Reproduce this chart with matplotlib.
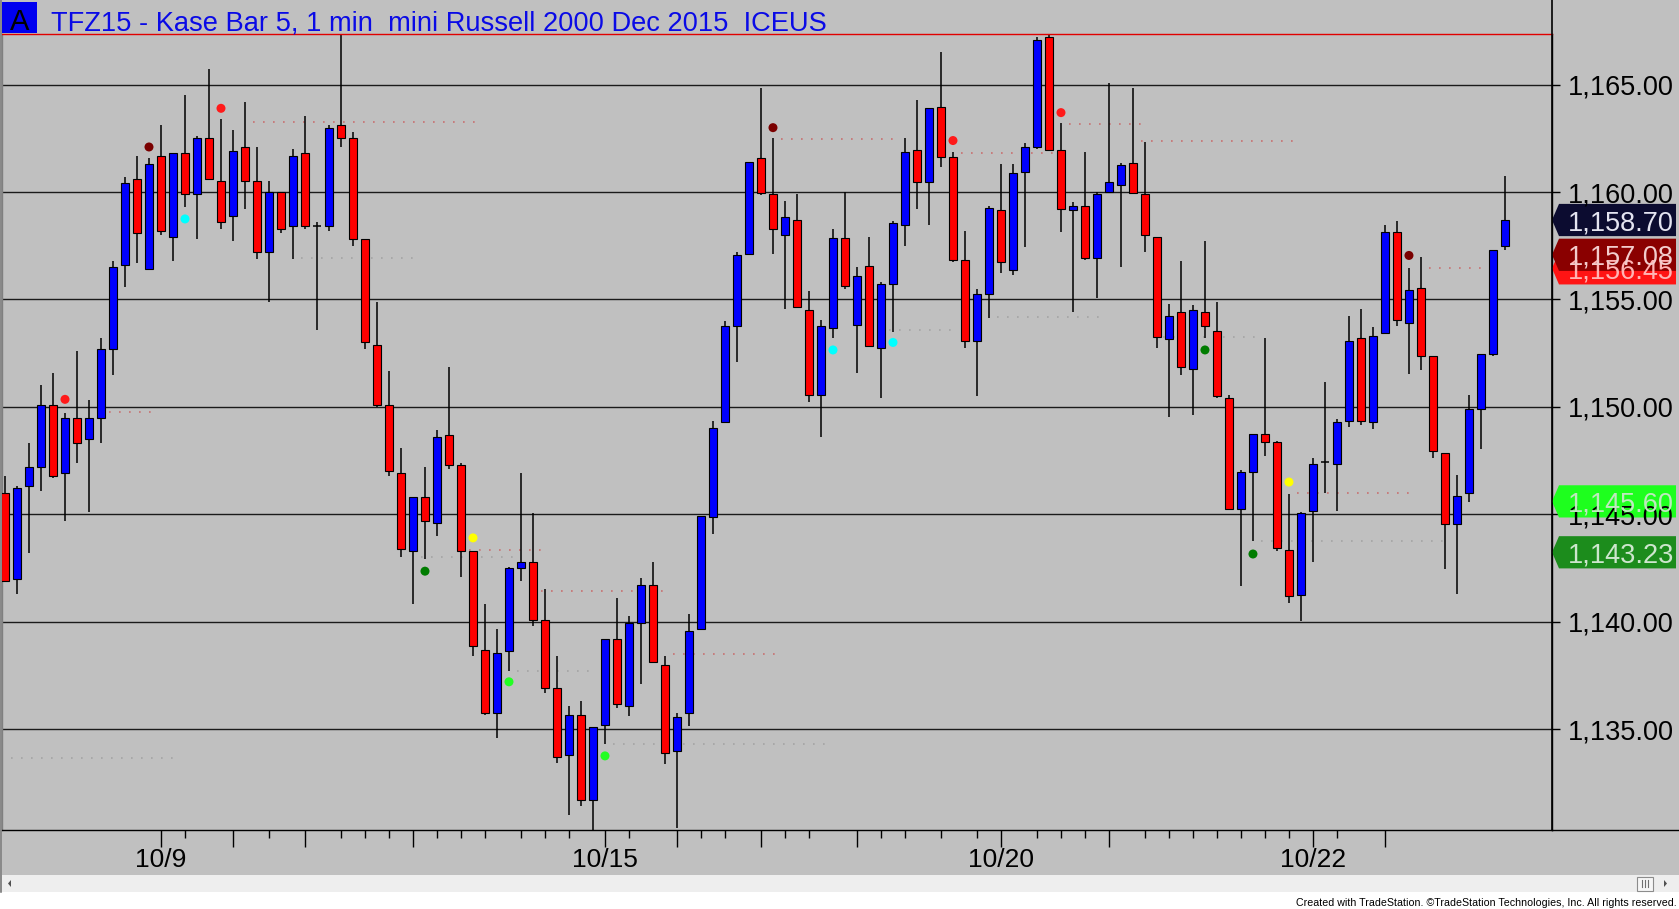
import matplotlib
matplotlib.use("Agg")
import matplotlib.pyplot as plt
from matplotlib import transforms, font_manager
from matplotlib.patches import Rectangle, Polygon
import numpy as np

# ---- data (Kase bars, 1-based bar numbers) ----
opens = [1146.0, 1142.0, 1146.3, 1147.2, 1150.1, 1146.9, 1149.5, 1148.5, 1149.5, 1152.7,
         1156.6, 1160.6, 1156.4, 1161.7, 1157.9, 1161.8, 1159.9, 1162.5, 1160.5, 1158.9,
         1162.1, 1160.5, 1157.2, 1160.0, 1158.4, 1161.8, 1158.4, 1158.4, 1163.1, 1162.5,
         1157.8, 1152.9, 1150.1, 1146.9, 1143.3, 1145.8, 1144.6, 1148.7, 1147.3, 1143.3,
         1138.7, 1135.75, 1138.65, 1142.5, 1142.8, 1140.1, 1136.9, 1133.8, 1135.65, 1131.7,
         1135.2, 1139.2, 1136.05, 1139.95, 1141.7, 1138.0, 1134.0, 1135.75, 1139.65, 1144.85,
         1149.3, 1153.75, 1157.1, 1161.6, 1159.9, 1158.0, 1158.7, 1154.5, 1150.55, 1153.65,
         1157.85, 1153.8, 1156.55, 1152.75, 1155.7, 1158.45, 1161.95, 1160.45, 1163.95, 1161.65,
         1156.85, 1153.05, 1155.25, 1159.15, 1156.35, 1160.95, 1162.1, 1167.2, 1161.95, 1159.15,
         1159.35, 1156.95, 1160.0, 1160.35, 1161.35, 1159.9, 1157.9, 1153.15, 1154.4, 1151.75,
         1154.4, 1153.55, 1150.4, 1145.25, 1146.95, 1148.75, 1148.35, 1143.35, 1141.25, 1145.15,
         1147.45, 1147.35, 1149.35, 1153.2, 1149.3, 1153.45, 1158.15, 1153.9, 1155.55, 1152.35,
         1147.85, 1144.55, 1146.0, 1149.9, 1152.45, 1157.5]
highs = [1146.8, 1146.3, 1148.3, 1151.0, 1151.6, 1149.7, 1152.6, 1150.3, 1153.2, 1156.8,
         1160.7, 1161.7, 1161.6, 1163.1, 1161.8, 1164.5, 1162.6, 1165.75, 1163.4, 1162.9,
         1164.2, 1162.1, 1160.5, 1160.0, 1162.0, 1163.55, 1158.6, 1163.1, 1167.3, 1162.8,
         1157.8, 1154.9, 1151.65, 1148.1, 1145.8, 1147.2, 1148.9, 1151.85, 1147.4, 1143.3,
         1140.8, 1139.65, 1142.55, 1146.9, 1145.05, 1141.5, 1138.4, 1136.05, 1136.3, 1135.1,
         1139.2, 1141.1, 1140.25, 1142.05, 1142.8, 1138.4, 1135.75, 1140.35, 1144.9, 1149.35,
         1154.0, 1157.2, 1161.4, 1164.85, 1162.5, 1159.6, 1159.9, 1155.4, 1154.05, 1158.3,
         1160.0, 1156.5, 1157.9, 1155.8, 1158.65, 1162.5, 1164.3, 1163.9, 1166.5, 1161.85,
         1158.2, 1155.5, 1159.35, 1161.3, 1161.3, 1162.3, 1167.2, 1167.3, 1163.2, 1159.55,
         1161.85, 1160.0, 1165.1, 1161.35, 1164.85, 1162.35, 1157.9, 1154.8, 1156.8, 1154.75,
         1157.7, 1154.9, 1150.55, 1147.05, 1148.75, 1153.2, 1148.4, 1145.95, 1145.1, 1147.6,
         1151.15, 1149.45, 1154.25, 1154.55, 1153.7, 1158.45, 1158.65, 1156.45, 1157.0, 1152.35,
         1147.85, 1146.85, 1150.55, 1152.45, 1157.3, 1160.75]
lows = [1141.85, 1141.3, 1143.2, 1146.1, 1146.7, 1144.7, 1147.4, 1145.1, 1148.3, 1151.5,
        1155.6, 1156.7, 1156.4, 1158.0, 1156.8, 1159.3, 1157.8, 1160.6, 1158.3, 1157.7,
        1159.2, 1156.9, 1154.9, 1158.1, 1156.9, 1158.3, 1153.6, 1158.2, 1162.1, 1157.5,
        1152.7, 1150.0, 1146.8, 1143.0, 1140.8, 1142.9, 1144.0, 1147.1, 1142.1, 1138.4,
        1135.65, 1134.6, 1137.7, 1141.9, 1139.8, 1136.7, 1133.4, 1131.0, 1131.4, 1130.2,
        1134.3, 1136.0, 1135.6, 1137.1, 1138.1, 1133.35, 1130.4, 1135.15, 1139.6, 1144.1,
        1149.3, 1152.1, 1157.1, 1159.85, 1157.1, 1154.55, 1154.65, 1150.25, 1148.6, 1153.2,
        1155.5, 1151.6, 1152.85, 1150.4, 1153.5, 1157.5, 1159.2, 1158.45, 1161.15, 1156.75,
        1152.75, 1150.5, 1154.15, 1156.25, 1156.15, 1157.45, 1162.0, 1161.95, 1158.15, 1154.4,
        1156.85, 1155.05, 1160.0, 1156.5, 1159.95, 1157.2, 1152.75, 1149.55, 1151.5, 1149.6,
        1153.2, 1150.4, 1145.25, 1141.65, 1143.75, 1147.7, 1143.3, 1140.85, 1140.05, 1142.8,
        1146.0, 1145.15, 1149.05, 1149.15, 1148.95, 1153.45, 1153.75, 1151.55, 1151.7, 1147.6,
        1142.45, 1141.3, 1145.55, 1148.05, 1152.35, 1157.3]
closes = [1141.9, 1146.2, 1147.2, 1150.1, 1146.8, 1149.5, 1148.3, 1149.5, 1152.7, 1156.5,
          1160.4, 1158.1, 1161.3, 1158.2, 1161.8, 1159.9, 1162.5, 1160.6, 1158.6, 1161.9,
          1160.5, 1157.2, 1160.0, 1158.3, 1161.7, 1158.4, 1158.4, 1163.0, 1162.5, 1157.8,
          1153.0, 1150.1, 1147.0, 1143.4, 1145.8, 1144.7, 1148.6, 1147.3, 1143.3, 1138.85,
          1135.75, 1138.55, 1142.5, 1142.8, 1140.1, 1136.9, 1133.7, 1135.65, 1131.7, 1135.1,
          1139.2, 1136.15, 1139.95, 1141.7, 1138.1, 1133.9, 1135.55, 1139.55, 1144.9, 1149.0,
          1153.75, 1157.05, 1161.4, 1159.95, 1158.3, 1158.85, 1154.65, 1150.55, 1153.75, 1157.85,
          1155.65, 1156.1, 1152.85, 1155.7, 1158.55, 1161.85, 1160.45, 1163.9, 1161.65, 1156.85,
          1153.05, 1155.25, 1159.25, 1156.75, 1160.9, 1162.1, 1167.1, 1161.95, 1159.2, 1159.35,
          1156.95, 1159.9, 1160.45, 1161.25, 1159.95, 1158.0, 1153.25, 1154.25, 1151.85, 1154.5,
          1153.75, 1150.5, 1145.25, 1146.95, 1148.75, 1148.35, 1143.45, 1141.2, 1145.05, 1147.35,
          1147.45, 1149.3, 1153.05, 1149.35, 1153.3, 1158.15, 1154.05, 1155.45, 1152.35, 1147.95,
          1144.55, 1145.85, 1149.9, 1152.45, 1157.3, 1158.7]

# signal dots
dot_bars = [6, 13, 16, 19, 36, 40, 43, 51, 65, 70, 75, 80, 89, 101, 105, 108, 118]
dot_prices = [1150.35, 1162.1, 1158.75, 1163.9, 1142.35, 1143.9, 1137.2, 1133.75, 1163.0,
              1152.65, 1153.0, 1162.4, 1163.7, 1152.65, 1143.15, 1146.5, 1157.05]
dot_kinds = ["red", "maroon", "cyan", "red", "green", "yellow", "lime", "lime", "maroon",
             "cyan", "cyan", "red", "red", "green", "green", "yellow", "maroon"]

# faint dotted level lines: first bar, last bar, price, kind
level_start = [10, 1, 22, 26, 40, 36, 46, 44, 57, 52, 66, 75, 81, 90, 84, 96, 97, 109, 106, 120]
level_end = [13, 15, 40, 35, 46, 43, 56, 50, 65, 69, 75, 80, 88, 96, 92, 108, 105, 118, 121, 124]
level_price = [1149.75, 1133.65, 1163.25, 1156.95, 1143.35, 1143.0, 1141.45, 1137.7, 1138.5,
               1134.3, 1162.45, 1153.6, 1161.8, 1163.15, 1154.2, 1162.4, 1153.25, 1146.0,
               1143.75, 1156.45]
level_kind = ["r", "g", "r", "g", "r", "g", "r", "g", "r", "g", "r", "g", "r", "r", "g", "r",
              "g", "r", "g", "r"]

# price axis
price_ticks = [1135, 1140, 1145, 1150, 1155, 1160, 1165]
tag_prices = [1156.45, 1158.70, 1157.08, 1145.60, 1143.23]
tag_bg = ["#ff1414", "#0c0c30", "#8a0000", "#1eff1e", "#1c8c1c"]
tag_fg = ["#ffb4b4", "#e4e4f0", "#f2cccc", "#bfe8bf", "#cde6cd"]

# time axis
long_ticks = [14, 20, 26, 35, 51, 57, 64, 72, 84, 93, 110, 116]
short_ticks = [16, 23, 29, 31, 33, 37, 39, 41, 44, 46, 48, 53, 59, 61, 66, 68, 74, 76, 79,
               82, 87, 89, 91, 96, 98, 100, 102, 104, 106, 108, 112]
date_bars = [14, 51, 84, 110]
date_labels = ["10/9", "10/15", "10/20", "10/22"]

title = "TFZ15 - Kase Bar 5, 1 min  mini Russell 2000 Dec 2015  ICEUS"
footer = "Created with TradeStation. \u00a9TradeStation Technologies, Inc. All rights reserved."

SILVER = "#c0c0c0"
BLUE = "#0000ff"
RED = "#ff0000"
DOT_COLORS = {"red": "#ff1a1a", "maroon": "#7a0000", "cyan": "#00ffff", "green": "#007c00",
              "yellow": "#ffff00", "lime": "#22ff22"}
FONT = "Liberation Sans"

W, H = 1679, 909
L, R, T, B = 2, 1552, 34, 830

fig = plt.figure(figsize=(W / 100, H / 100), dpi=100, facecolor=SILVER)
ax = fig.add_axes([L / W, 1 - B / H, (R - L) / W, (B - T) / H])
ax.set_facecolor(SILVER)
ax.set_xlim(0.75, 129.92)
ax.set_ylim(1130.30, 1167.36)

# grid
ax.set_yticks(price_ticks)
ax.grid(axis="y", color="#1a1a1a", lw=1.0, zorder=0)
ax.yaxis.tick_right()
ax.tick_params(axis="y", direction="out", length=6, width=1, color="black", labelright=False)
ax.set_xticks(long_ticks)
ax.set_xticks(short_ticks, minor=True)
ax.tick_params(axis="x", which="major", direction="out", length=12, width=1, color="black",
               labelbottom=False)
ax.tick_params(axis="x", which="minor", direction="out", length=6, width=1, color="black")
for side, col in [("top", "#e00000"), ("bottom", "black"), ("right", "black"), ("left", "#808080")]:
    ax.spines[side].set_color(col)
    ax.spines[side].set_linewidth(1.0)

# dotted levels
for a, b, p, k in zip(level_start, level_end, level_price, level_kind):
    ax.plot([a - 0.3, b + 0.3], [p, p], linestyle=(0, (1, 5)), lw=1.2,
            color="#c87070" if k == "r" else "#a4a4a4", zorder=1)

# candles
o = np.array(opens)
h = np.array(highs)
lo = np.array(lows)
c = np.array(closes)
x = np.arange(1, len(o) + 1)
ax.vlines(x, lo, h, color="black", lw=1.1, zorder=2)
doji = np.abs(c - o) < 0.01
body_col = np.where(c > o, BLUE, RED)
ax.bar(x[~doji], np.abs(c - o)[~doji], bottom=np.minimum(o, c)[~doji], width=0.6,
       color=body_col[~doji], edgecolor="black", linewidth=0.8, zorder=3)
ax.hlines(o[doji], x[doji] - 0.35, x[doji] + 0.35, color="black", lw=1.1, zorder=3)

# dots
ax.scatter(dot_bars, dot_prices, s=42, c=[DOT_COLORS[k] for k in dot_kinds],
           edgecolors="none", zorder=4)

# overlay in pixel coordinates
ov = fig.add_axes([0, 0, 1, 1], zorder=5)
ov.set_xlim(0, W)
ov.set_ylim(H, 0)
ov.axis("off")
ov.patch.set_alpha(0)
py = transforms.blended_transform_factory(ov.transData, ax.transData)
bx = transforms.blended_transform_factory(ax.transData, ov.transData)

# title bar
ov.add_patch(Rectangle((2, 2), 35, 31, facecolor="#0000f0", edgecolor="none"))
ov.text(19.5, 30, "A", fontsize=21, family=FONT, ha="center", va="baseline", color="black")
ov.text(51, 30, title, fontsize=19.6, family=FONT, ha="left", va="baseline", color="#0a0ae6")

# frame lines
ov.plot([R, R], [0, B], color="black", lw=1.2)
ov.plot([R, W], [B, B], color="black", lw=1.0)
ov.plot([1, 1], [0, 892], color="#808080", lw=1.2)

# price labels
for p in price_ticks:
    ov.text(1568, p - 0.47, f"{p:,.2f}", transform=py, fontsize=19.5, family=FONT,
            ha="left", va="baseline", color="black", clip_on=False)

# price tags (the red one sits mostly hidden behind the dark red one, as in the source)
half = 0.75
for p, bg, fg in zip(tag_prices, tag_bg, tag_fg):
    ov.add_patch(Polygon([(R, p), (R + 7, p + half), (1676, p + half), (1676, p - half),
                          (R + 7, p - half)], closed=True, transform=py, facecolor=bg,
                         edgecolor="none", clip_on=False))
    ov.text(1568, p - 0.47, f"{p:,.2f}", transform=py, fontsize=19.5, family=FONT,
            ha="left", va="baseline", color=fg, clip_on=False)

# date labels
for b_, lab in zip(date_bars, date_labels):
    ov.text(b_, 867, lab, transform=bx, fontsize=19, family=FONT, ha="center",
            va="baseline", color="black", clip_on=False)

# scrollbar + footer strip
ov.add_patch(Rectangle((2, 875), W - 2, 17, facecolor="#eeeeee", edgecolor="none"))
ov.add_patch(Rectangle((0, 892), W, H - 892, facecolor="white", edgecolor="none"))
ov.add_patch(Polygon([(8, 883.5), (11, 880), (11, 887)], closed=True, facecolor="#505050",
                     edgecolor="none"))
ov.add_patch(Polygon([(1667, 883.5), (1664, 880), (1664, 887)], closed=True,
                     facecolor="#505050", edgecolor="none"))
ov.add_patch(Rectangle((1637, 876.5), 16, 14, facecolor="#f6f6f6", edgecolor="#8c8c8c", lw=0.8))
for xx in [1642, 1645, 1648]:
    ov.plot([xx, xx], [880, 887], color="#707070", lw=0.8)

names = {f.name for f in font_manager.fontManager.ttflist}
if "Liberation Sans Narrow" in names:
    ov.text(1677, 906, footer, fontsize=9.0, family="Liberation Sans Narrow", ha="right",
            va="baseline", color="black")
else:
    ov.text(1677, 906, footer, fontsize=7.7, family=FONT, ha="right", va="baseline",
            color="black")

fig.savefig("out.png", dpi=100, facecolor=fig.get_facecolor())
